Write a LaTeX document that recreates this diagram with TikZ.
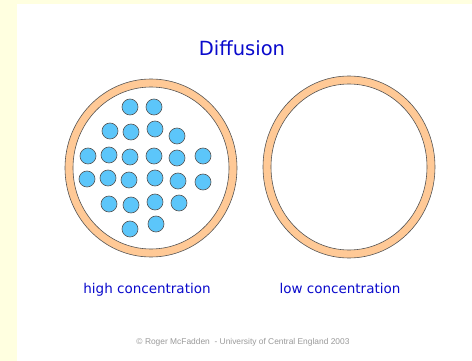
\documentclass[tikz,border=0pt]{standalone}
\usepackage{fontspec}
\setmainfont{DejaVu Sans}
\newfontfamily\smallsans{Liberation Sans}
\definecolor{bgyellow}{HTML}{FFFFE0}
\definecolor{ringfill}{HTML}{FFC996}
\definecolor{dotfill}{HTML}{5CC6FA}
\definecolor{edgegray}{HTML}{555555}
\definecolor{titleblue}{HTML}{0A0ACC}
\definecolor{copygray}{HTML}{9A9A9A}
\tikzset{
  ring/.style={fill=ringfill,draw=edgegray,line width=0.6pt,even odd rule},
  molecule/.style={circle,fill=dotfill,draw=edgegray,line width=0.6pt,minimum size=16pt,inner sep=0pt},
  label/.style={text=titleblue,inner sep=0pt},
}
\begin{document}
\begin{tikzpicture}[x=1pt,y=-1pt]
\fill[bgyellow] (0,0) rectangle (472,361);
\fill[white] (17,4) rectangle (472,361);
\useasboundingbox (0,0) rectangle (472,361);
% left cell
\path[ring] (151,168) ellipse [x radius=86, y radius=89] (151,168) ellipse [x radius=78, y radius=81];
% right cell
\path[ring] (349,167) ellipse [x radius=86, y radius=91] (349,167) ellipse [x radius=78, y radius=83];
% molecules
\foreach \x/\y [count=\i] in {130/107,154/107,
  110/131,131/132,155/129,177/136,
  88/156,109/155,130/157,154/156,177/158,203/156,
  87/179,108/178,129/180,155/178,178/181,203/182,
  109/204,131/205,155/202,179/203,
  130/229,156/224}
  \node[molecule] (m\i) at (\x,\y) {};
% texts
\node[label,font=\fontsize{19.5}{19.5}\selectfont] (title) at (242,48) {Diffusion};
\node[label,font=\fontsize{13.5}{13.5}\selectfont] (high) at (147,290) {high concentration};
\node[label,font=\fontsize{13.5}{13.5}\selectfont] (low) at (340,288) {low concentration};
\node[text=copygray,inner sep=0pt,font=\smallsans\fontsize{8.4}{9}\selectfont] (copy) at (243,342) {© Roger McFadden \ - University of Central England 2003};
\end{tikzpicture}
\end{document}
